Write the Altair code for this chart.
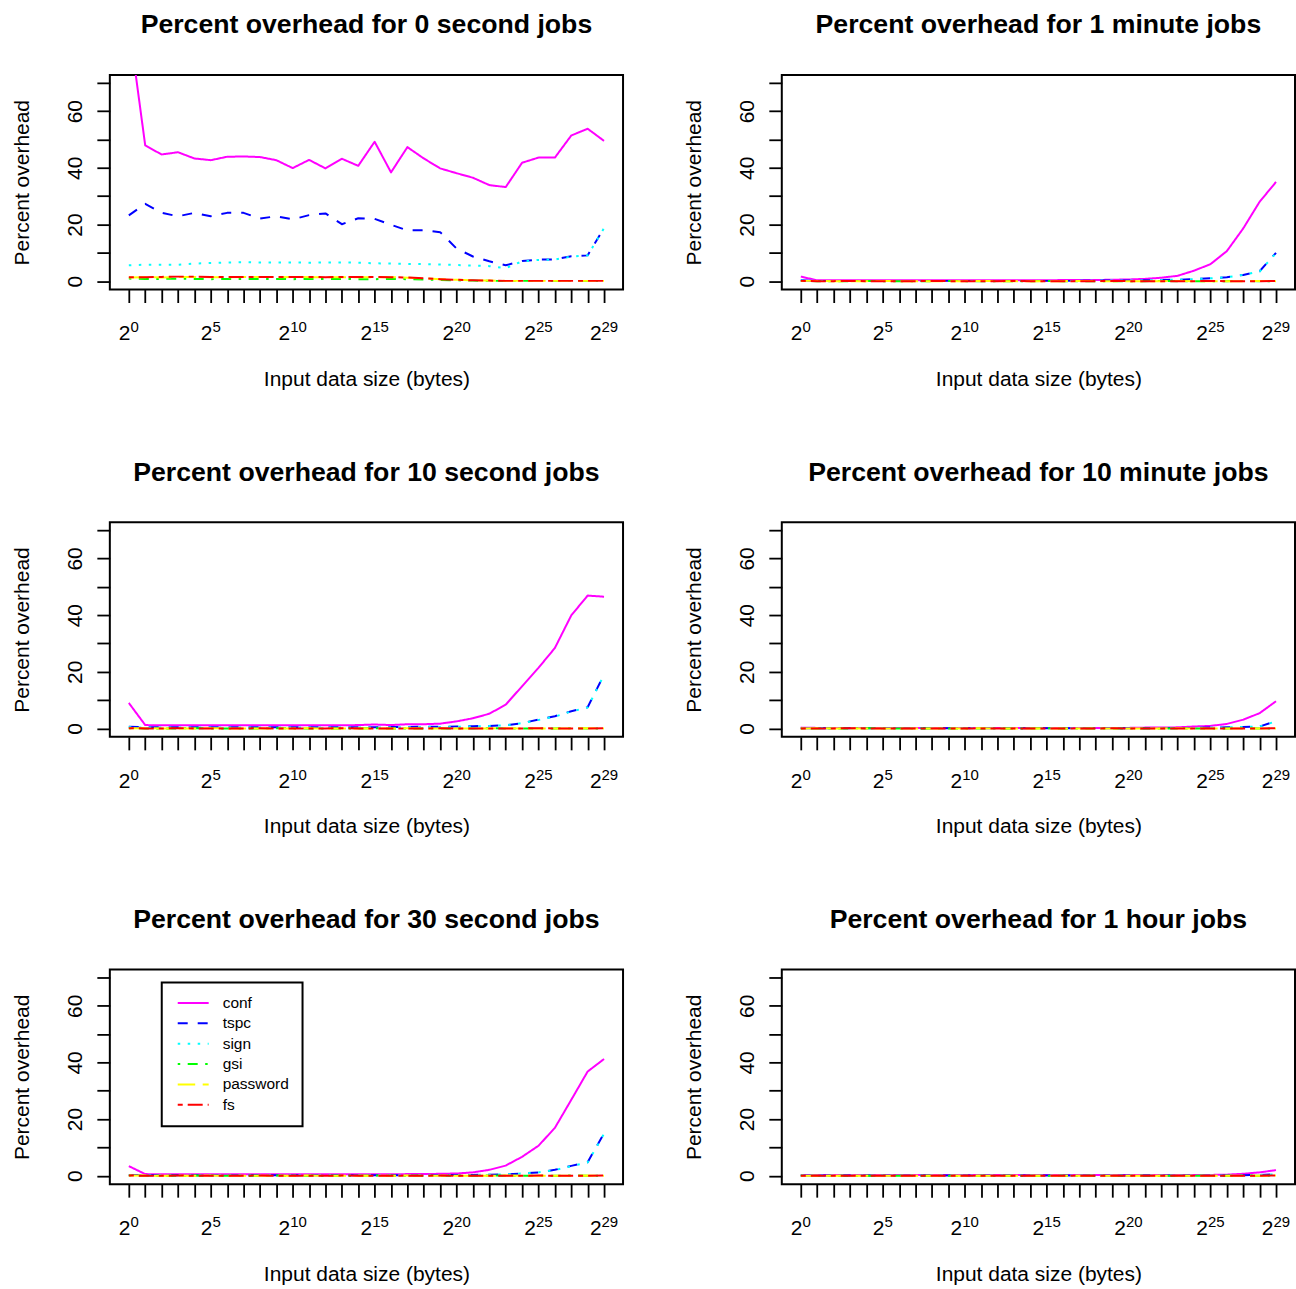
import altair as alt
import pandas as pd

# Input sizes are 2^0 .. 2^29 bytes; x is the exponent.
EXPONENTS = list(range(30))
LABEL_EXPONENTS = [0, 5, 10, 15, 20, 25, 29]
Y_TICKS = [0, 10, 20, 30, 40, 50, 60, 70]

SERIES = ["conf", "tspc", "sign", "gsi", "password", "fs"]
SERIES_COLORS = ["#FF00FF", "#0000FF", "#00FFFF", "#00FF00", "#FFFF00", "#FF0000"]
# solid, dashed, dotted, dotdash, longdash, twodash (in dash units)
DASH_PATTERNS = [[1, 0], [4, 4], [1, 3], [1, 3, 4, 3], [7, 3], [2, 2, 6, 2]]
DASH_UNIT = 2.5

# ---- 0 second jobs ----
conf_0s = [91.0, 47.9, 44.7, 45.5, 43.3, 42.7, 43.9, 44.0, 43.8, 42.7, 39.9, 42.8, 39.8, 43.2, 40.7,
           49.2, 38.4, 47.3, 43.3, 39.8, 38.1, 36.5, 33.9, 33.2, 41.8, 43.6, 43.6, 51.4, 53.8, 49.5]
tspc_0s = [23.2, 27.3, 24.1, 22.9, 24.1, 22.9, 24.1, 24.1, 22.1, 22.9, 21.8, 23.3, 23.9, 20.1, 22.2,
           22.0, 19.9, 17.9, 18.0, 17.3, 11.5, 8.7, 7.0, 5.6, 7.1, 7.6, 7.7, 8.8, 9.1, 18.8]
sign_0s = [5.6, 5.8, 5.8, 5.8, 6.2, 6.4, 6.6, 6.7, 6.6, 6.6, 6.6, 6.5, 6.6, 6.6, 6.5,
           6.3, 6.2, 6.1, 6.0, 5.9, 5.7, 5.5, 5.3, 4.6, 7.0, 7.5, 7.6, 8.7, 9.1, 18.7]
gsi_0s = [0.9, 0.8, 0.8, 0.9, 0.8, 0.7, 0.8, 0.8, 0.8, 0.8, 0.7, 0.8, 0.8, 0.8, 0.7,
          0.7, 0.8, 0.7, 0.6, 0.4, 0.3, 0.2, 0.1, 0.1, 0.1, 0.1, 0.1, 0.1, 0.1, 0.1]
password_0s = [1.3, 1.4, 1.3, 1.5, 1.5, 1.4, 1.4, 1.5, 1.5, 1.4, 1.5, 1.4, 1.4, 1.4, 1.4,
               1.4, 1.4, 1.2, 1.0, 0.7, 0.5, 0.3, 0.2, 0.1, 0.1, 0.1, 0.1, 0.1, 0.1, 0.1]
fs_0s = [1.4, 1.4, 1.5, 1.6, 1.6, 1.5, 1.5, 1.5, 1.5, 1.5, 1.5, 1.5, 1.4, 1.5, 1.5,
         1.5, 1.4, 1.3, 1.0, 0.7, 0.5, 0.3, 0.2, 0.1, 0.1, 0.1, 0.1, 0.1, 0.1, 0.1]

# ---- 1 minute jobs ----
conf_1m = [1.6, 0.3, 0.3, 0.3, 0.3, 0.3, 0.3, 0.3, 0.3, 0.3, 0.3, 0.3, 0.3, 0.3, 0.3,
           0.3, 0.4, 0.4, 0.4, 0.5, 0.6, 0.8, 1.2, 1.9, 3.7, 6.0, 10.6, 18.6, 28.0, 35.0]
tspc_1m = [0.3, 0.1, 0.1, 0.1, 0.1, 0.1, 0.1, 0.1, 0.1, 0.1, 0.1, 0.1, 0.1, 0.1, 0.1,
           0.1, 0.1, 0.1, 0.2, 0.2, 0.2, 0.3, 0.4, 0.5, 0.7, 1.0, 1.4, 2.2, 3.5, 10.0]
sign_1m = [0.2, 0.1, 0.1, 0.1, 0.1, 0.1, 0.1, 0.1, 0.1, 0.1, 0.1, 0.1, 0.1, 0.1, 0.1,
           0.1, 0.1, 0.1, 0.2, 0.2, 0.2, 0.3, 0.4, 0.5, 0.7, 1.0, 1.4, 2.2, 3.4, 9.9]
gsi_1m = [0.1, 0.0, 0.0, 0.0, 0.1, 0.0, 0.0, 0.0, 0.0, 0.1, 0.0, 0.0, 0.0, 0.0, 0.0,
          0.1, 0.0, 0.0, 0.0, 0.0, 0.0, 0.0, 0.1, 0.0, 0.0, 0.0, 0.0, 0.1, 0.0, 0.0]
password_1m = [0.1, 0.1, 0.0, 0.0, 0.0, 0.1, 0.0, 0.0, 0.0, 0.0, 0.0, 0.1, 0.0, 0.0, 0.0,
               0.0, 0.0, 0.1, 0.0, 0.0, 0.0, 0.0, 0.0, 0.1, 0.0, 0.0, 0.0, 0.0, 0.1, 0.0]
fs_1m = [0.1, 0.0, 0.0, 0.1, 0.0, 0.0, 0.0, 0.0, 0.1, 0.0, 0.0, 0.0, 0.0, 0.1, 0.0,
         0.0, 0.0, 0.0, 0.0, 0.1, 0.0, 0.0, 0.0, 0.0, 0.0, 0.1, 0.0, 0.0, 0.0, 0.1]

# ---- 10 second jobs ----
conf_10s = [9.0, 1.2, 1.1, 1.1, 1.1, 1.1, 1.1, 1.1, 1.1, 1.1, 1.1, 1.1, 1.1, 1.1, 1.2,
            1.4, 1.2, 1.5, 1.5, 1.7, 2.5, 3.6, 5.2, 8.4, 14.9, 21.4, 28.4, 39.9, 46.9, 46.5]
tspc_10s = [0.6, 0.4, 0.4, 0.4, 0.4, 0.4, 0.4, 0.4, 0.4, 0.4, 0.4, 0.4, 0.4, 0.4, 0.4,
            0.4, 0.5, 0.5, 0.6, 0.6, 0.7, 0.8, 0.9, 1.1, 1.9, 3.1, 4.3, 6.1, 7.5, 19.0]
sign_10s = [0.5, 0.3, 0.3, 0.3, 0.3, 0.3, 0.3, 0.3, 0.3, 0.3, 0.3, 0.3, 0.3, 0.3, 0.3,
            0.3, 0.4, 0.4, 0.5, 0.5, 0.6, 0.7, 0.9, 1.1, 1.9, 3.0, 4.2, 6.0, 7.4, 18.9]
gsi_10s = [0.1, 0.0, 0.0, 0.0, 0.1, 0.0, 0.0, 0.0, 0.0, 0.1, 0.0, 0.0, 0.0, 0.0, 0.0,
           0.1, 0.0, 0.0, 0.0, 0.0, 0.0, 0.0, 0.1, 0.0, 0.0, 0.0, 0.0, 0.1, 0.0, 0.0]
password_10s = [0.1, 0.1, 0.0, 0.0, 0.0, 0.1, 0.0, 0.0, 0.0, 0.0, 0.0, 0.1, 0.0, 0.0, 0.0,
                0.0, 0.0, 0.1, 0.0, 0.0, 0.0, 0.0, 0.0, 0.1, 0.0, 0.0, 0.0, 0.0, 0.1, 0.0]
fs_10s = [0.1, 0.0, 0.0, 0.1, 0.0, 0.0, 0.0, 0.0, 0.1, 0.0, 0.0, 0.0, 0.0, 0.1, 0.0,
          0.0, 0.0, 0.0, 0.0, 0.1, 0.0, 0.0, 0.0, 0.0, 0.0, 0.1, 0.0, 0.0, 0.0, 0.1]

# ---- 10 minute jobs ----
conf_10m = [0.3, 0.2, 0.2, 0.2, 0.2, 0.2, 0.2, 0.2, 0.2, 0.2, 0.2, 0.2, 0.2, 0.2, 0.2,
            0.2, 0.2, 0.2, 0.2, 0.2, 0.2, 0.3, 0.3, 0.4, 0.7, 0.9, 1.6, 3.1, 5.4, 9.6]
tspc_10m = [0.1, 0.1, 0.1, 0.1, 0.1, 0.1, 0.1, 0.1, 0.1, 0.1, 0.1, 0.1, 0.1, 0.1, 0.1,
            0.1, 0.1, 0.1, 0.1, 0.1, 0.1, 0.1, 0.1, 0.2, 0.2, 0.3, 0.4, 0.5, 0.7, 2.6]
sign_10m = [0.1, 0.1, 0.1, 0.1, 0.1, 0.1, 0.1, 0.1, 0.1, 0.1, 0.1, 0.1, 0.1, 0.1, 0.1,
            0.1, 0.1, 0.1, 0.1, 0.1, 0.1, 0.1, 0.1, 0.2, 0.2, 0.3, 0.4, 0.5, 0.7, 2.5]
gsi_10m = [0.0, 0.0, 0.0, 0.0, 0.1, 0.0, 0.0, 0.0, 0.0, 0.0, 0.0, 0.0, 0.0, 0.0, 0.0,
           0.1, 0.0, 0.0, 0.0, 0.0, 0.0, 0.0, 0.0, 0.0, 0.0, 0.0, 0.0, 0.1, 0.0, 0.0]
password_10m = [0.0, 0.1, 0.0, 0.0, 0.0, 0.0, 0.0, 0.0, 0.0, 0.0, 0.0, 0.1, 0.0, 0.0, 0.0,
                0.0, 0.0, 0.0, 0.0, 0.0, 0.0, 0.0, 0.0, 0.1, 0.0, 0.0, 0.0, 0.0, 0.0, 0.0]
fs_10m = [0.0, 0.0, 0.0, 0.1, 0.0, 0.0, 0.0, 0.0, 0.0, 0.0, 0.0, 0.0, 0.0, 0.0, 0.0,
          0.0, 0.0, 0.0, 0.0, 0.1, 0.0, 0.0, 0.0, 0.0, 0.0, 0.0, 0.0, 0.0, 0.0, 0.1]

# ---- 30 second jobs ----
conf_30s = [3.4, 0.6, 0.5, 0.5, 0.5, 0.5, 0.5, 0.5, 0.5, 0.5, 0.5, 0.5, 0.5, 0.5, 0.5,
            0.5, 0.5, 0.6, 0.6, 0.7, 0.8, 1.2, 2.1, 3.6, 6.7, 10.6, 16.9, 26.8, 36.8, 41.2]
tspc_30s = [0.3, 0.2, 0.2, 0.2, 0.2, 0.2, 0.2, 0.2, 0.2, 0.2, 0.2, 0.2, 0.2, 0.2, 0.2,
            0.2, 0.2, 0.2, 0.2, 0.2, 0.3, 0.3, 0.4, 0.5, 0.8, 1.2, 2.1, 3.5, 4.8, 15.0]
sign_30s = [0.2, 0.2, 0.2, 0.2, 0.2, 0.2, 0.2, 0.2, 0.2, 0.2, 0.2, 0.2, 0.2, 0.2, 0.2,
            0.2, 0.2, 0.2, 0.2, 0.2, 0.3, 0.3, 0.4, 0.5, 0.8, 1.2, 2.0, 3.4, 4.7, 14.8]
gsi_30s = [0.1, 0.0, 0.0, 0.0, 0.1, 0.0, 0.0, 0.0, 0.0, 0.1, 0.0, 0.0, 0.0, 0.0, 0.0,
           0.1, 0.0, 0.0, 0.0, 0.0, 0.0, 0.0, 0.1, 0.0, 0.0, 0.0, 0.0, 0.1, 0.0, 0.0]
password_30s = [0.1, 0.1, 0.0, 0.0, 0.0, 0.1, 0.0, 0.0, 0.0, 0.0, 0.0, 0.1, 0.0, 0.0, 0.0,
                0.0, 0.0, 0.1, 0.0, 0.0, 0.0, 0.0, 0.0, 0.1, 0.0, 0.0, 0.0, 0.0, 0.1, 0.0]
fs_30s = [0.1, 0.0, 0.0, 0.1, 0.0, 0.0, 0.0, 0.0, 0.1, 0.0, 0.0, 0.0, 0.0, 0.1, 0.0,
          0.0, 0.0, 0.0, 0.0, 0.1, 0.0, 0.0, 0.0, 0.0, 0.0, 0.1, 0.0, 0.0, 0.0, 0.1]

# ---- 1 hour jobs ----
conf_1h = [0.3, 0.3, 0.3, 0.3, 0.3, 0.3, 0.3, 0.3, 0.3, 0.3, 0.3, 0.3, 0.3, 0.3, 0.3,
           0.3, 0.3, 0.3, 0.3, 0.3, 0.3, 0.3, 0.3, 0.3, 0.3, 0.3, 0.4, 0.7, 1.2, 2.0]
tspc_1h = [0.1, 0.1, 0.1, 0.1, 0.1, 0.1, 0.1, 0.1, 0.1, 0.1, 0.1, 0.1, 0.1, 0.1, 0.1,
           0.1, 0.1, 0.1, 0.1, 0.1, 0.1, 0.1, 0.1, 0.1, 0.1, 0.1, 0.1, 0.2, 0.3, 0.5]
sign_1h = [0.1, 0.1, 0.1, 0.1, 0.1, 0.1, 0.1, 0.1, 0.1, 0.1, 0.1, 0.1, 0.1, 0.1, 0.1,
           0.1, 0.1, 0.1, 0.1, 0.1, 0.1, 0.1, 0.1, 0.1, 0.1, 0.1, 0.1, 0.2, 0.3, 0.5]
gsi_1h = [0.0, 0.0, 0.0, 0.0, 0.0, 0.0, 0.0, 0.0, 0.0, 0.0, 0.0, 0.0, 0.0, 0.0, 0.0,
          0.0, 0.0, 0.0, 0.0, 0.0, 0.0, 0.0, 0.0, 0.0, 0.0, 0.0, 0.0, 0.0, 0.0, 0.1]
password_1h = [0.0, 0.0, 0.0, 0.0, 0.0, 0.0, 0.0, 0.0, 0.0, 0.0, 0.0, 0.0, 0.0, 0.0, 0.0,
               0.0, 0.0, 0.0, 0.0, 0.0, 0.0, 0.0, 0.0, 0.0, 0.0, 0.0, 0.0, 0.0, 0.0, 0.1]
fs_1h = [0.0, 0.0, 0.0, 0.0, 0.0, 0.0, 0.0, 0.0, 0.0, 0.0, 0.0, 0.0, 0.0, 0.0, 0.0,
         0.0, 0.0, 0.0, 0.0, 0.0, 0.0, 0.0, 0.0, 0.0, 0.0, 0.0, 0.0, 0.0, 0.0, 0.1]

# Panels in row-major order (left column: seconds, right column: minutes/hours)
PANELS = [
    ("Percent overhead for 0 second jobs", [conf_0s, tspc_0s, sign_0s, gsi_0s, password_0s, fs_0s]),
    ("Percent overhead for 1 minute jobs", [conf_1m, tspc_1m, sign_1m, gsi_1m, password_1m, fs_1m]),
    ("Percent overhead for 10 second jobs", [conf_10s, tspc_10s, sign_10s, gsi_10s, password_10s, fs_10s]),
    ("Percent overhead for 10 minute jobs", [conf_10m, tspc_10m, sign_10m, gsi_10m, password_10m, fs_10m]),
    ("Percent overhead for 30 second jobs", [conf_30s, tspc_30s, sign_30s, gsi_30s, password_30s, fs_30s]),
    ("Percent overhead for 1 hour jobs", [conf_1h, tspc_1h, sign_1h, gsi_1h, password_1h, fs_1h]),
]
LEGEND_PANEL = 4

FONT = "Liberation Sans"
W, H = 514, 215
X_DOMAIN = [-1.16, 30.16]
Y_DOMAIN = [-2.96, 72.8]
BASE_SIZE, POWER_SIZE = 21, 15
BASE_W, DIGIT_W = 0.556 * BASE_SIZE, 0.556 * POWER_SIZE

DASHES = [[d * DASH_UNIT for d in p] if p != [1, 0] else p for p in DASH_PATTERNS]


def x_enc():
    return alt.X(
        "exponent:Q",
        scale=alt.Scale(domain=X_DOMAIN, nice=False, zero=False),
        axis=alt.Axis(
            values=EXPONENTS, labels=False, domain=False, grid=False,
            ticks=True, tickSize=13, tickWidth=1.8, tickColor="black",
            title="Input data size (bytes)", titleFont=FONT, titleFontSize=21,
            titleFontWeight="normal", titleColor="black",
            titleX=W / 2, titleY=96, titleAlign="center", titleBaseline="alphabetic",
        ),
    )


def y_enc():
    return alt.Y(
        "value:Q",
        scale=alt.Scale(domain=Y_DOMAIN, nice=False, zero=False),
        axis=alt.Axis(
            values=Y_TICKS, labelExpr="datum.value % 20 === 0 ? datum.label : ''",
            domain=False, grid=False, tickSize=13, tickWidth=1.8, tickColor="black",
            labelFont=FONT, labelFontSize=21, labelColor="black", labelAngle=270,
            labelAlign="center", labelBaseline="alphabetic", labelPadding=15.5,
            labelOverlap=False, labelFlush=False,
            title="Percent overhead", titleFont=FONT, titleFontSize=21,
            titleFontWeight="normal", titleColor="black", titleAngle=270,
            titleX=-81, titleY=H / 2, titleAlign="center", titleBaseline="alphabetic",
        ),
    )


label_df = pd.DataFrame({
    "exponent": LABEL_EXPONENTS,
    "base": ["2"] * len(LABEL_EXPONENTS),
    "power": [str(e) for e in LABEL_EXPONENTS],
})


def power_labels():
    """2^k tick labels: a full-size 2 with a raised, smaller exponent."""
    layers = []
    for ndig, test in [(1, "datum.exponent < 10"), (2, "datum.exponent >= 10")]:
        dx = (BASE_W - ndig * DIGIT_W) / 2
        src = alt.Chart(label_df).transform_filter(test)
        layers.append(src.mark_text(font=FONT, fontSize=BASE_SIZE, align="right",
                                    baseline="alphabetic", dx=dx, color="black")
                      .encode(x=x_enc(), y=alt.value(H + 51), text="base:N"))
        layers.append(src.mark_text(font=FONT, fontSize=POWER_SIZE, align="left",
                                    baseline="alphabetic", dx=dx, color="black")
                      .encode(x=x_enc(), y=alt.value(H + 43), text="power:N"))
    return layers


def panel(idx, title, values):
    rows = []
    for name, vals in zip(SERIES, values):
        for e, v in zip(EXPONENTS, vals):
            rows.append({"series": name, "exponent": e, "value": v})
    df = pd.DataFrame(rows)
    leg = alt.Legend(title=None) if idx == LEGEND_PANEL else None
    lines = alt.Chart(df).mark_line(
        clip=True, strokeWidth=2, strokeJoin="round", strokeCap="butt"
    ).encode(
        x=x_enc(),
        y=y_enc(),
        color=alt.Color("series:N", scale=alt.Scale(domain=SERIES, range=SERIES_COLORS), legend=leg),
        strokeDash=alt.StrokeDash("series:N", scale=alt.Scale(domain=SERIES, range=DASHES), legend=leg),
    )
    return alt.layer(lines, *power_labels()).properties(
        width=W, height=H,
        title=alt.TitleParams(text=title, font=FONT, fontSize=26.7, fontWeight="bold",
                              color="black", anchor="middle", frame="group",
                              offset=15, baseline="alphabetic"),
    )


panels = [panel(i, t, v) for i, (t, v) in enumerate(PANELS)]

chart = (
    alt.concat(*panels, columns=2, spacing={"row": 233, "column": 159}, bounds="flush")
    .resolve_scale(color="independent", strokeDash="independent")
    .resolve_legend(color="independent", strokeDash="independent")
    .properties(padding={"left": 11, "top": 10, "right": 0, "bottom": 0}, background="white")
    .configure_view(stroke="black", strokeWidth=2)
    .configure_legend(
        orient="none", legendX=52, legendY=13,
        symbolType="stroke", symbolSize=961, symbolStrokeWidth=2, symbolOffset=2,
        clipHeight=15, rowPadding=4.4, padding=13, labelOffset=13,
        labelFont=FONT, labelFontSize=15.5, labelColor="black",
        strokeColor="black", strokeWidth=2, fillColor="white",
    )
)

chart.save("out.html", embed_options={"renderer": "svg", "actions": False})
